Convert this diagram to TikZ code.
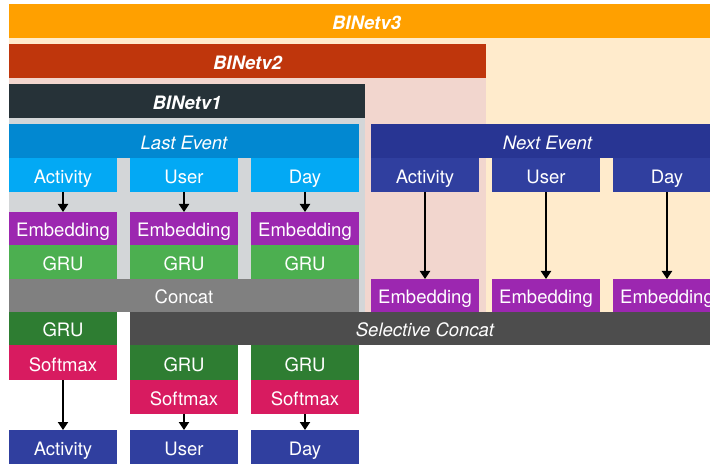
\documentclass[tikz,border=0pt]{standalone}
\usepackage{fontspec}
\setmainfont{TeX Gyre Heros}
\usetikzlibrary{arrows.meta}

% palette
\definecolor{vthree}{HTML}{FFA000}
\definecolor{vthreebg}{HTML}{FFEBCC}
\definecolor{vtwo}{HTML}{BF360C}
\definecolor{vtwobg}{HTML}{F2D6CE}
\definecolor{vone}{HTML}{263238}
\definecolor{vonebg}{HTML}{D3D6D8}
\definecolor{lastev}{HTML}{0288D1}
\definecolor{lastin}{HTML}{03A9F4}
\definecolor{nextev}{HTML}{283593}
\definecolor{nextin}{HTML}{303F9F}
\definecolor{embed}{HTML}{9C27B0}
\definecolor{grua}{HTML}{4CAF50}
\definecolor{grub}{HTML}{2E7D32}
\definecolor{concat}{HTML}{808080}
\definecolor{selconcat}{HTML}{4D4D4D}
\definecolor{softmax}{HTML}{D81B60}
\definecolor{outblue}{HTML}{303F9F}

\tikzset{
  blk/.style={rectangle, inner sep=0pt, outer sep=0pt, text=white,
    font=\fontsize{18.5}{20}\selectfont, text height=17pt, text depth=0pt,
    minimum width=108pt, minimum height=34pt},
  wide/.style={blk, minimum width=#1},
  titlebi/.style={font=\fontsize{18.5}{20}\selectfont\bfseries\itshape},
  titlei/.style={font=\fontsize{18.5}{20}\selectfont\itshape},
  flow/.style={line width=2pt, -{Triangle[width=10pt,length=8pt]}},
}

\begin{document}
\begin{tikzpicture}[x=1pt, y=-1pt]
\useasboundingbox (0,0) rectangle (710,465);
\clip (0,0) rectangle (710,465);

% nested version backgrounds
\fill[vthreebg] (9,4) rectangle (724,312);
\fill[vtwobg] (9,44) rectangle (486,312);
\fill[vonebg] (9,84) rectangle (365,312);

% version title bars
\node[wide=715pt, fill=vthree, titlebi] (v3) at (366.5,21) {BINetv3};
\node[wide=477pt, fill=vtwo, titlebi] (v2) at (247.5,61) {BINetv2};
\node[wide=356pt, fill=vone, titlebi] (v1) at (187,101) {BINetv1};

% event headers
\node[wide=350pt, fill=lastev, titlei] (last) at (184,141) {Last Event};
\node[wide=353pt, fill=nextev, titlei] (next) at (547.5,141) {Next Event};

% last event inputs
\node[blk, fill=lastin] (la) at (63,175) {Activity};
\node[blk, fill=lastin] (lu) at (184,175) {User};
\node[blk, fill=lastin] (ld) at (305,175) {Day};

% next event inputs
\node[blk, fill=nextin] (na) at (425,175) {Activity};
\node[blk, fill=nextin] (nu) at (546,175) {User};
\node[blk, fill=nextin] (nd) at (667,175) {Day};

% last event embeddings and encoders
\node[blk, fill=embed, minimum height=33pt] (lea) at (63,228.5) {Embedding};
\node[blk, fill=embed, minimum height=33pt] (leu) at (184,228.5) {Embedding};
\node[blk, fill=embed, minimum height=33pt] (led) at (305,228.5) {Embedding};
\node[blk, fill=grua] (ga) at (63,262) {GRU};
\node[blk, fill=grua] (gu) at (184,262) {GRU};
\node[blk, fill=grua] (gd) at (305,262) {GRU};
\node[wide=350pt, fill=concat, minimum height=33pt] (cat) at (184,295.5) {Concat};

% next event embeddings
\node[blk, fill=embed, minimum height=33pt] (nea) at (425,295.5) {Embedding};
\node[blk, fill=embed, minimum height=33pt] (neu) at (546,295.5) {Embedding};
\node[blk, fill=embed, minimum height=33pt] (ned) at (667,295.5) {Embedding};

% decoders
\node[blk, fill=grub, minimum height=33pt] (da) at (63,328.5) {GRU};
\node[blk, fill=softmax, minimum height=35pt] (sa) at (63,362.5) {Softmax};
\node[wide=594pt, fill=selconcat, minimum height=33pt] (sel) at (427,328.5) {};
\node[blk, titlei, minimum width=0pt] (seltxt) at (425,328.5) {Selective Concat};
\node[blk, fill=grub, minimum height=35pt] (du) at (184,362.5) {GRU};
\node[blk, fill=grub, minimum height=35pt] (dd) at (305,362.5) {GRU};
\node[blk, fill=softmax] (su) at (184,397) {Softmax};
\node[blk, fill=softmax] (sd) at (305,397) {Softmax};

% outputs
\node[blk, fill=outblue] (oa) at (63,447) {Activity};
\node[blk, fill=outblue] (ou) at (184,447) {User};
\node[blk, fill=outblue] (od) at (305,447) {Day};

% connectors
\draw[flow] (la) -- (lea);
\draw[flow] (lu) -- (leu);
\draw[flow] (ld) -- (led);
\draw[flow] (na) -- (nea);
\draw[flow] (nu) -- (neu);
\draw[flow] (nd) -- (ned);
\draw[flow] (sa) -- (oa);
\draw[flow] (su) -- (ou);
\draw[flow] (sd) -- (od);
\end{tikzpicture}
\end{document}
